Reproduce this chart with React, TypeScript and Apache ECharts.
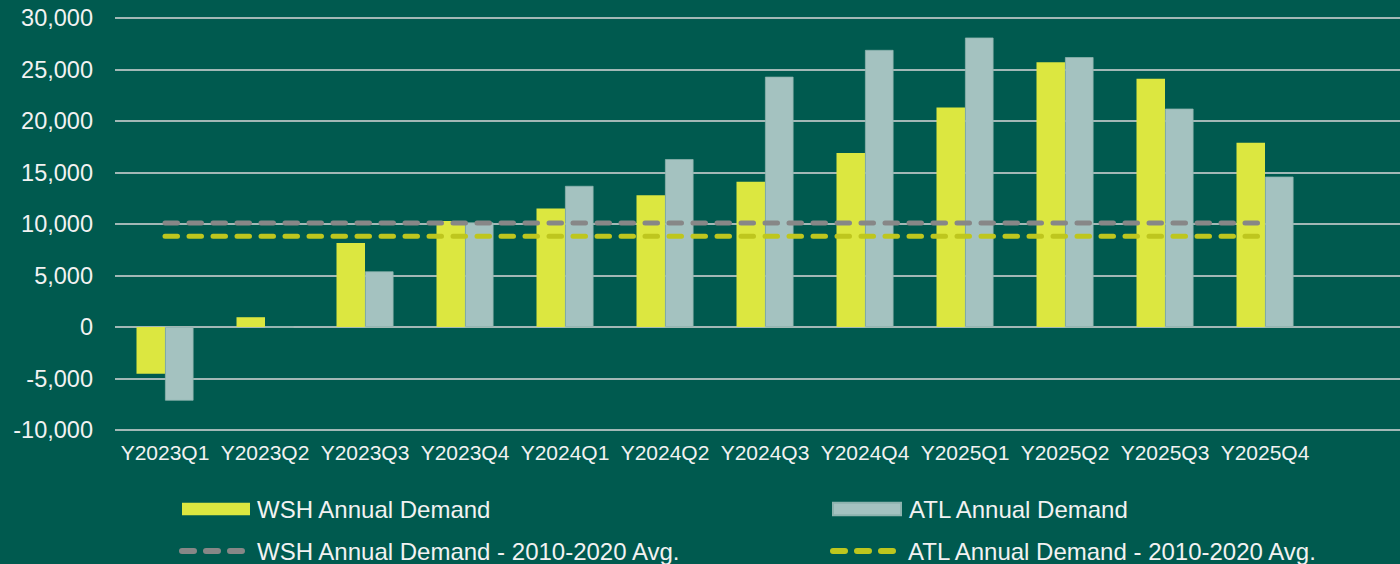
import React, { useEffect, useRef } from "react";
import * as echarts from "echarts";

const categories = [
  "Y2023Q1", "Y2023Q2", "Y2023Q3", "Y2023Q4",
  "Y2024Q1", "Y2024Q2", "Y2024Q3", "Y2024Q4",
  "Y2025Q1", "Y2025Q2", "Y2025Q3", "Y2025Q4",
];
const wshDemand = [-4550, 950, 8150, 10300, 11500, 12800, 14100, 16900, 21300, 25700, 24100, 17900];
const atlDemand = [-7150, 0, 5400, 10150, 13700, 16300, 24300, 26900, 28100, 26200, 21200, 14600];
const wshAvg = [10100, 10100, 10100, 10100, 10100, 10100, 10100, 10100, 10100, 10100, 10100, 10100];
const atlAvg = [8800, 8800, 8800, 8800, 8800, 8800, 8800, 8800, 8800, 8800, 8800, 8800];

const S_WSH = "WSH Annual Demand";
const S_ATL = "ATL Annual Demand";
const S_WSH_AVG = "WSH Annual Demand - 2010-2020 Avg.";
const S_ATL_AVG = "ATL Annual Demand - 2010-2020 Avg.";

const BG = "#005A4F";
const TEXT = "#F2F2F2";
const FONT = 'Arial, "Liberation Sans", sans-serif';
const C_WSH = "#DCE740";
const C_ATL = "#A4C2C0";
const C_WSH_AVG = "#878787";
const C_ATL_AVG = "#BEC61E";

const DASH_ICON =
  "path://M3,0H15A3,3 0 0 1 15,6H3A3,3 0 0 1 3,0Z" +
  "M27,0H39A3,3 0 0 1 39,6H27A3,3 0 0 1 27,0Z" +
  "M51,0H63A3,3 0 0 1 63,6H51A3,3 0 0 1 51,0Z";

export default function App() {
  const ref = useRef<HTMLDivElement>(null);
  useEffect(() => {
    document.body.style.margin = "0";
    document.body.style.background = BG;
    if (!ref.current) return;
    const chart = echarts.init(ref.current, undefined, { renderer: "svg" });
    const legendText = (padLeft: number) => ({
      color: TEXT,
      fontFamily: FONT,
      fontSize: 24,
      lineHeight: 24,
      padding: [0, 0, 0, padLeft],
    });
    chart.setOption({
      animation: false,
      backgroundColor: BG,
      grid: [
        { left: 115, width: 1200, top: 18, height: 412 },
        { left: 115, right: 0, top: 18, height: 412 },
      ],
      xAxis: [
        {
          type: "category",
          gridIndex: 0,
          data: categories,
          axisLine: { show: false },
          axisTick: { show: false },
          axisLabel: { interval: 0, color: TEXT, fontFamily: FONT, fontSize: 21, margin: 12 },
          splitLine: { show: false },
        },
        { type: "value", gridIndex: 1, min: 0, max: 1, show: false },
      ],
      yAxis: [
        {
          type: "value",
          gridIndex: 0,
          min: -10000,
          max: 30000,
          interval: 5000,
          axisLine: { show: false },
          axisTick: { show: false },
          splitLine: { show: false },
          axisLabel: {
            color: TEXT,
            fontFamily: FONT,
            fontSize: 23.5,
            margin: 22,
            formatter: (v: number) => v.toLocaleString("en-US"),
          },
        },
        {
          type: "value",
          gridIndex: 1,
          min: -10000,
          max: 30000,
          interval: 5000,
          axisLine: { show: false },
          axisTick: { show: false },
          axisLabel: { show: false },
          splitLine: { show: true, lineStyle: { color: "#D9D9D9", width: 1.5 } },
        },
      ],
      legend: [
        {
          data: [{ name: S_WSH, icon: "rect" }],
          left: 182, top: 497, padding: 0,
          itemWidth: 68, itemHeight: 12.5,
          textStyle: legendText(2),
        },
        {
          data: [{ name: S_ATL, icon: "rect" }],
          left: 832, top: 497, padding: 0,
          itemWidth: 68, itemHeight: 12.5,
          textStyle: legendText(3),
        },
        {
          data: [{ name: S_WSH_AVG, icon: DASH_ICON }],
          left: 179, top: 539, padding: 0,
          itemWidth: 66, itemHeight: 6,
          textStyle: legendText(7),
        },
        {
          data: [{ name: S_ATL_AVG, icon: DASH_ICON }],
          left: 830, top: 539, padding: 0,
          itemWidth: 66, itemHeight: 6,
          textStyle: legendText(7),
        },
      ],
      series: [
        {
          name: S_WSH,
          type: "bar",
          xAxisIndex: 0,
          yAxisIndex: 0,
          data: wshDemand,
          barWidth: 28.5,
          barGap: "0%",
          itemStyle: { color: C_WSH },
          z: 2,
        },
        {
          name: S_ATL,
          type: "bar",
          xAxisIndex: 0,
          yAxisIndex: 0,
          data: atlDemand,
          barWidth: 28.5,
          barGap: "0%",
          itemStyle: { color: C_ATL, borderColor: "#8DB3AE", borderWidth: 0.75 },
          z: 2,
        },
        {
          name: S_WSH_AVG,
          type: "line",
          xAxisIndex: 0,
          yAxisIndex: 0,
          data: wshAvg,
          symbol: "none",
          color: C_WSH_AVG,
          itemStyle: { color: C_WSH_AVG },
          lineStyle: { color: C_WSH_AVG, width: 5, type: [12.5, 11.5], cap: "round" },
          z: 5,
        },
        {
          name: S_ATL_AVG,
          type: "line",
          xAxisIndex: 0,
          yAxisIndex: 0,
          data: atlAvg,
          symbol: "none",
          color: C_ATL_AVG,
          itemStyle: { color: C_ATL_AVG },
          lineStyle: { color: C_ATL_AVG, width: 5, type: [12.5, 11.5], cap: "round" },
          z: 5,
        },
        {
          name: "grid-lines",
          type: "line",
          xAxisIndex: 1,
          yAxisIndex: 1,
          data: [],
          silent: true,
        },
      ],
    });
    return () => chart.dispose();
  }, []);
  return <div ref={ref} style={{ width: 1400, height: 564 }} />;
}
